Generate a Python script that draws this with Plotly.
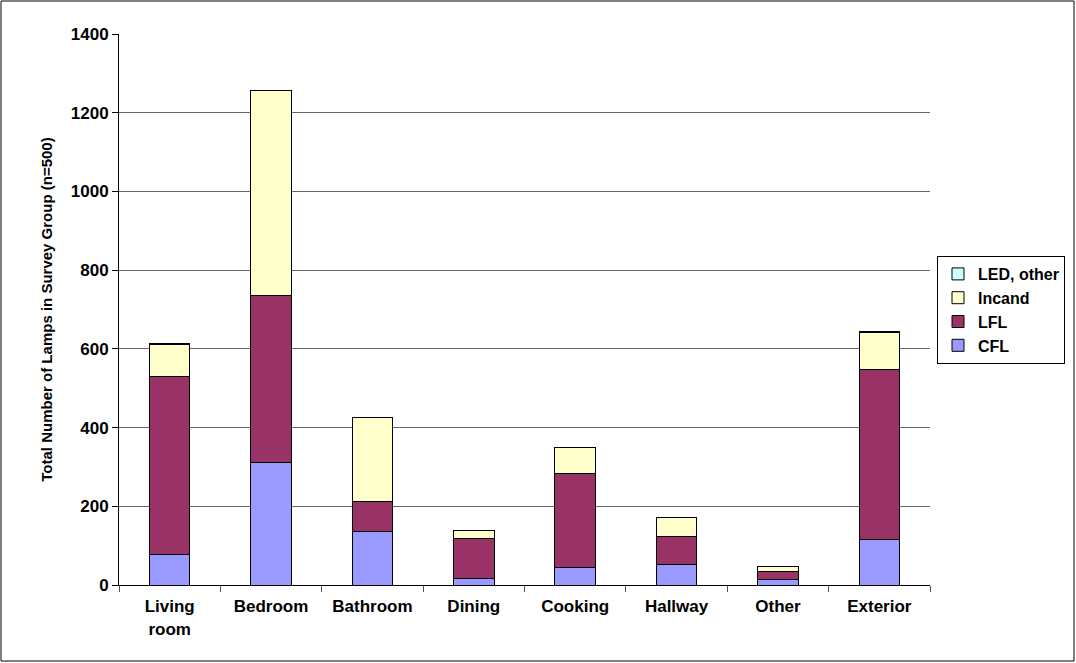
import plotly.graph_objects as go

# Lamp counts by room and lamp type
rooms = ["Living<br>room", "Bedroom", "Bathroom", "Dining", "Cooking", "Hallway", "Other", "Exterior"]
cfl = [78, 311, 135, 17, 44, 52, 14, 116]
lfl = [453, 424, 77, 102, 240, 72, 21, 432]
incand = [79, 522, 214, 20, 65, 47, 12, 94]
led_other = [3, 0, 0, 0, 0, 0, 0, 2]

series = [
    ("CFL", cfl, "#9999FF"),
    ("LFL", lfl, "#993366"),
    ("Incand", incand, "#FFFFCC"),
    ("LED, other", led_other, "#CCFFFF"),
]

W, H = 1076, 663
L, R, T, B = 119, 930, 34, 585

fig = go.Figure()
for name, vals, color in series:
    fig.add_trace(go.Bar(
        x=rooms, y=vals, name=name,
        marker=dict(color=color, line=dict(color="#000000", width=1)),
        width=0.4,
    ))

font_family = "Liberation Sans, Arial, sans-serif"

fig.update_layout(
    width=W, height=H,
    barmode="stack",
    plot_bgcolor="white",
    paper_bgcolor="white",
    margin=dict(l=L, r=W - R, t=T, b=H - B, pad=0, autoexpand=False),
    font=dict(family=font_family, color="black"),
    showlegend=True,
    legend=dict(
        x=(937 - L) / (R - L), xanchor="left",
        y=(B - 256) / (B - T), yanchor="top",
        traceorder="reversed",
        bgcolor="white",
        bordercolor="black", borderwidth=1,
        font=dict(size=16, family=font_family, color="black", weight="bold"),
        itemwidth=30,
        tracegroupgap=0,
    ),
    xaxis=dict(
        type="category",
        showline=True, linecolor="#000000", linewidth=1,
        ticks="outside", tickson="boundaries", ticklen=6, tickcolor="#555",
        tickfont=dict(size=17, family=font_family, color="black", weight="bold"),
        ticklabelstandoff=6,
        showgrid=False,
    ),
    yaxis=dict(
        range=[0, 1400], dtick=200,
        showline=True, linecolor="#000000", linewidth=1,
        ticks="outside", ticklen=6, tickcolor="#000",
        tickfont=dict(size=17, family=font_family, color="black", weight="bold"),
        showgrid=True, gridcolor="#666666", gridwidth=1,
        zeroline=False,
        title=dict(text="Total Number of Lamps in Survey Group (n=500)",
                   font=dict(size=15, family=font_family, color="black", weight="bold"),
                   standoff=14),
    ),
)

# Outer frame around the whole chart
fig.add_shape(
    type="rect", xref="paper", yref="paper",
    x0=(1 - L) / (R - L), x1=(1074 - L) / (R - L),
    y0=(B - 661) / (B - T), y1=(B - 1) / (B - T),
    line=dict(color="black", width=1), fillcolor="rgba(0,0,0,0)",
    layer="below",
)

fig.write_html("out.html")
